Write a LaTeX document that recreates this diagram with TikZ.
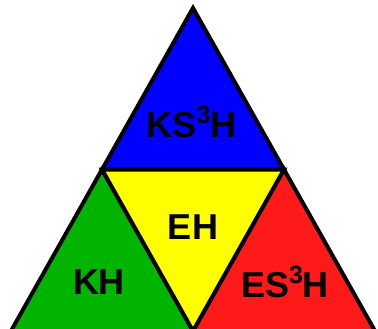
\documentclass[tikz,border=0pt]{standalone}
\usepackage{fontspec}
\setmainfont{Liberation Sans}
\usetikzlibrary{calc}
\definecolor{kshblue}{HTML}{0000FF}
\definecolor{khgreen}{HTML}{00B400}
\definecolor{ehyellow}{HTML}{FFFF00}
\definecolor{eshred}{HTML}{FF1A1A}

\newcommand{\cube}{\raisebox{14pt}{\fontsize{25}{25}\selectfont 3}}

\begin{document}
\begin{tikzpicture}[
  x=1pt,y=-1pt,
  part/.style={draw=black,line width=4pt,line join=miter},
  lbl/.style={anchor=base,inner sep=0pt,font=\fontsize{36}{36}\selectfont\bfseries}
]
  \useasboundingbox (0,0) rectangle (378,329);
  \clip (0,0) rectangle (378,329);
  \coordinate (top) at (193,8);
  \coordinate (bl) at (11,331);
  \coordinate (br) at (375,331);
  \coordinate (ml) at ($(top)!0.5!(bl)$);
  \coordinate (mr) at ($(top)!0.5!(br)$);
  \coordinate (mb) at ($(bl)!0.5!(br)$);
  \filldraw[part,fill=kshblue] (top) -- (mr) -- (ml) -- cycle;
  \filldraw[part,fill=khgreen] (ml) -- (mb) -- (bl) -- cycle;
  \filldraw[part,fill=eshred] (mr) -- (br) -- (mb) -- cycle;
  \filldraw[part,fill=ehyellow] (ml) -- (mr) -- (mb) -- cycle;
  \node[lbl] (ksh) at (191.5,138) {KS\cube H};
  \node[lbl] (eh) at (193,239) {EH};
  \node[lbl] (kh) at (99,294) {KH};
  \node[lbl] (esh) at (285,297) {ES\cube H};
\end{tikzpicture}
\end{document}
